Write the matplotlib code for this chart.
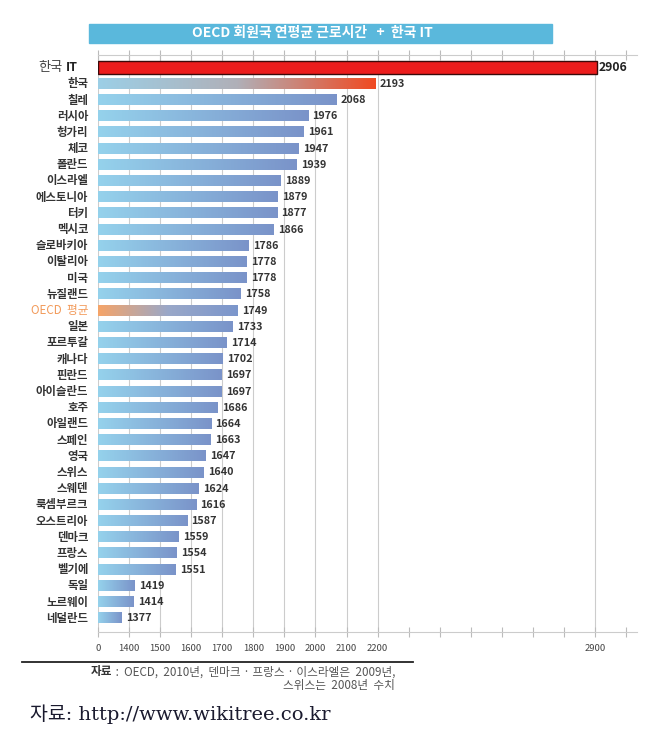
import numpy as np
import matplotlib
matplotlib.use('Agg')
import matplotlib.pyplot as plt
import matplotlib.colors as colors

plt.rcParams['font.family'] = ['Noto Sans CJK KR', 'DejaVu Sans']

# annual working hours, OECD members + Korean IT workers
countries = ['한국 IT', '한국', '칠레', '러시아', '헝가리', '체코', '폴란드', '이스라엘',
             '에스토니아', '터키', '멕시코', '슬로바키아', '이탈리아', '미국', '뉴질랜드',
             'OECD 평균', '일본', '포르투갈', '캐나다', '핀란드', '아이슬란드', '호주',
             '아일랜드', '스페인', '영국', '스위스', '스웨덴', '룩셈부르크', '오스트리아',
             '덴마크', '프랑스', '벨기에', '독일', '노르웨이', '네덜란드']
hours = [2906, 2193, 2068, 1976, 1961, 1947, 1939, 1889, 1879, 1877, 1866, 1786,
         1778, 1778, 1758, 1749, 1733, 1714, 1702, 1697, 1697, 1686, 1664, 1663,
         1647, 1640, 1624, 1616, 1587, 1559, 1554, 1551, 1419, 1414, 1377]

# axis starts at 1300, labelled "0" (broken axis in the original)
x0 = 1300
tick_vals = [1300, 1400, 1500, 1600, 1700, 1800, 1900, 2000, 2100, 2200, 2900]
tick_labels = ['0', '1400', '1500', '1600', '1700', '1800', '1900', '2000', '2100', '2200', '2900']

fig = plt.figure(figsize=(6.67, 7.36), dpi=100)
ax = fig.add_axes([98/667, 1 - 632/736, 539/667, 577/736])

n = len(countries)


def grad(c_list):
    cmap = colors.LinearSegmentedColormap.from_list('g', c_list)
    return cmap(np.linspace(0, 1, 256))[None, :, :]


blue = ['#95d2ec', '#7a93c9']
for i, (name, v) in enumerate(zip(countries, hours)):
    if name == '한국 IT':
        ax.barh(i, v - x0, left=x0, height=0.8, color='#ec1c1c',
                edgecolor='#3a0a0a', linewidth=1.0, zorder=3)
        ax.text(v + 6, i, str(v), va='center', ha='left', fontsize=8.8,
                fontweight='bold', color='#222222', zorder=4)
        continue
    if name == '한국':
        cl = ['#9ccfe6', '#b0b0b8', '#f04a22']
    elif name == 'OECD 평균':
        cl = ['#f6a468', '#9aa8c8', '#7b96cc']
    else:
        cl = blue
    h = 0.62
    ax.imshow(grad(cl), extent=(x0, v, i + h/2, i - h/2), aspect='auto',
              interpolation='bilinear', zorder=3)
    ax.text(v + 14, i, str(v), va='center', ha='left', fontsize=7.8,
            fontweight='bold', color='#333333', zorder=4)

ax.set_ylim(n - 1 + 0.85, -0.78)
ax.set_xlim(x0, 3035)

# category labels
ytr = ax.get_yaxis_transform()
for i, name in enumerate(countries):
    if name == '한국 IT':
        ax.text(-0.037, i, 'IT', transform=ytr, ha='right', va='center',
                fontsize=9, fontweight='bold', color='#222222')
        ax.text(-0.066, i, '한국', transform=ytr, ha='right', va='center',
                fontsize=9.5, color='#444444')
    elif name == 'OECD 평균':
        ax.text(-0.018, i, 'OECD  평균', transform=ytr, ha='right', va='center',
                fontsize=8.4, color='#f29a5a')
    else:
        ax.text(-0.018, i, name, transform=ytr, ha='right', va='center',
                fontsize=8.2, fontweight='bold', color='#333333')

# grid lines
for t in tick_vals:
    ax.axvline(t, color='#cccccc', linewidth=0.8, zorder=1)

ax.set_yticks([])
all_ticks = np.arange(1300, 3001, 100)
ax.set_xticks(all_ticks)
ax.set_xticklabels([tick_labels[tick_vals.index(t)] if t in tick_vals else ''
                    for t in all_ticks])
ax.tick_params(axis='x', direction='inout', length=7, width=0.8, color='#bbbbbb',
               labelsize=6.8, labelcolor='#444444', pad=5, top=True)
for s in ['left', 'right']:
    ax.spines[s].set_visible(False)
for s in ['top', 'bottom']:
    ax.spines[s].set_color('#cccccc')
    ax.spines[s].set_linewidth(0.8)

# title box
fig.patches.append(plt.Rectangle((89/667, 1 - 43/736), 463/667, 19/736,
                                 transform=fig.transFigure, color='#5ab8dc'))
fig.text(312/667, 1 - 33.5/736, 'OECD 회원국 연평균 근로시간   +  한국 IT', ha='center',
         va='center', color='white', fontsize=10, fontweight='bold')

# source
fig.add_artist(plt.Line2D([22/667, 413/667], [1 - 662/736, 1 - 662/736],
                          color='#222222', linewidth=1.3, transform=fig.transFigure))
src = fig.text(395/667, 1 - 672/736, ' :  OECD,  2010년,  덴마크 · 프랑스 · 이스라엘은  2009년,',
               ha='right', va='center', fontsize=8.4, color='#555555')
bb = src.get_window_extent(renderer=fig.canvas.get_renderer())
fig.text(bb.x0 / fig.bbox.width, 1 - 672/736, '자료', ha='right', va='center',
         fontsize=8.4, fontweight='bold', color='#333333')
fig.text(395/667, 1 - 685/736, '스위스는  2008년  수치', ha='right', va='center',
         fontsize=8.4, color='#555555')
fig.text(30/667, 1 - 714/736, '자료: http://www.wikitree.co.kr', ha='left', va='center',
         fontsize=14, color='#1a1a2e', family=['DejaVu Serif', 'Noto Sans CJK KR'])

plt.savefig('out.png', dpi=100)
